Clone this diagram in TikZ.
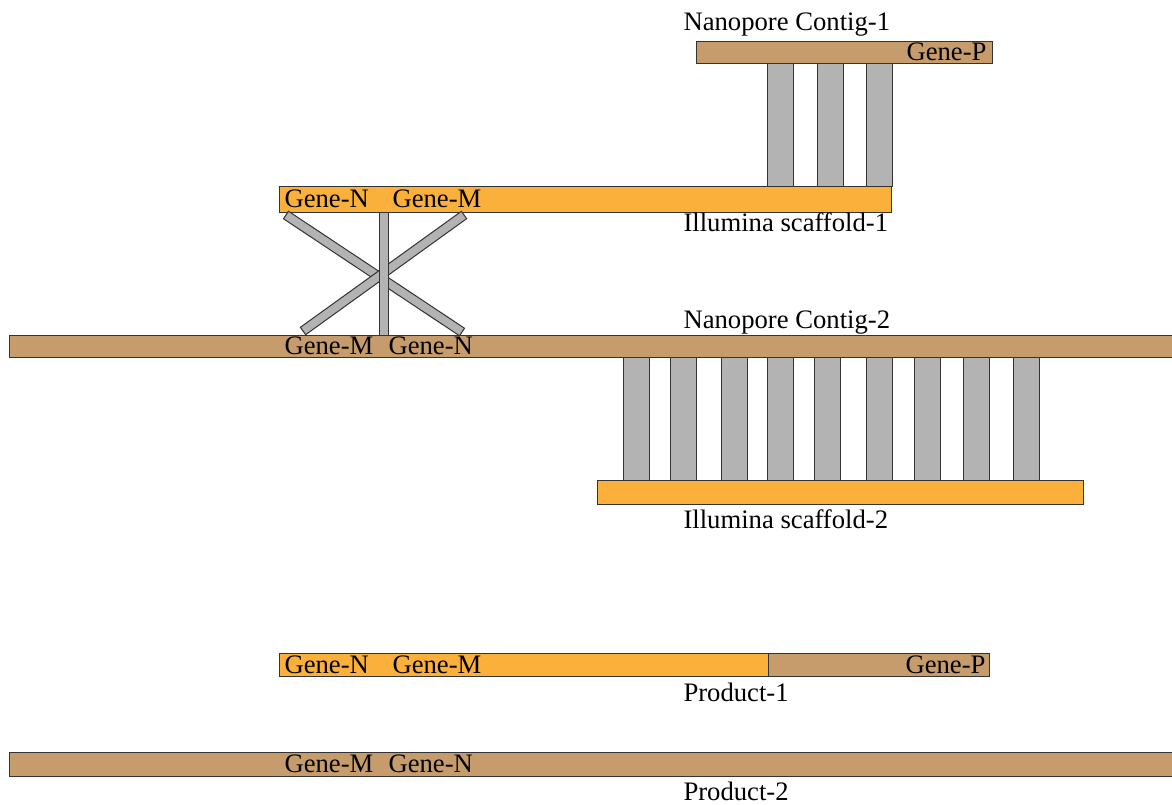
\documentclass[tikz,border=0pt]{standalone}
\usepackage{fontspec}
\setmainfont{Liberation Serif}
\usetikzlibrary{fit,calc}

\definecolor{contigtan}{RGB}{198,156,109}
\definecolor{scaforange}{RGB}{251,176,59}
\definecolor{linkgray}{RGB}{179,179,179}

\tikzset{every picture/.style={line width=0.75pt}}
\tikzset{
  contig/.style={draw=black!80, fill=contigtan, inner sep=0pt, outer sep=0pt},
  scaffold/.style={draw=black!80, fill=scaforange, inner sep=0pt, outer sep=0pt},
  link/.style={draw=black!80, fill=linkgray},
  gene/.style={inner sep=0pt, font=\fontsize{20}{24}\selectfont},
  seqlabel/.style={inner sep=0pt, anchor=base west, font=\fontsize{20}{24}\selectfont},
}

\begin{document}
\begin{tikzpicture}[x=0.75pt,y=0.75pt,yscale=-1,xscale=1]
\useasboundingbox (0,0) rectangle (1172,804);

%Shape: Contigs and scaffolds
\node[contig, fit={(696,41) (992,63)}] (np1) {};
\node[scaffold, fit={(279,186) (891,212)}] (il1) {};
\node[contig, fit={(9,335) (1190,357)}] (np2) {};
\node[scaffold, fit={(597,480) (1083,504)}] (il2) {};

%Shape: Links contig-1 / scaffold-1
\foreach \x in {767,817,866}
  \draw[link] (\x,0 |- np1.south) rectangle (\x+26,0 |- il1.north);

%Shape: Links contig-2 / scaffold-2
\foreach \x in {623,670,721,767,814,866,914,963,1013}
  \draw[link] (\x,0 |- np2.south) rectangle (\x+26,0 |- il2.north);

%Shape: Crossed links scaffold-1 / contig-2
\coordinate (x1a) at (286,215);
\coordinate (x1b) at (462,332);
\coordinate (x2a) at (464,215);
\coordinate (x2b) at (303,331);
\foreach \a/\b in {x1a/x1b,x2a/x2b}
  \draw[link] ($(\a)!3.4pt!90:(\b)$) -- ($(\a)!3.4pt!-90:(\b)$) -- ($(\b)!3.4pt!90:(\a)$) -- ($(\b)!3.4pt!-90:(\a)$) -- cycle;
\draw[link] (379,0 |- il1.south) rectangle (388,0 |- np2.north);

%Shape: Products
\node[scaffold, fit={(279,653) (768,676)}] (pr1a) {};
\node[contig, fit={(768,653) (989,676)}] (pr1b) {};
\node[contig, fit={(9,752) (1190,776)}] (pr2) {};

% Text Node: genes
\node[gene, anchor=east] (gp1) at (987,0 |- np1) {Gene-P};
\node[gene, anchor=west] (gn1) at (284,0 |- il1) {Gene-N};
\node[gene, anchor=west] (gm1) at (392,0 |- il1) {Gene-M};
\node[gene, anchor=west] (gm2) at (284,0 |- np2) {Gene-M};
\node[gene, anchor=west] (gn2) at (388,0 |- np2) {Gene-N};
\node[gene, anchor=west] (gn3) at (284,0 |- pr1a) {Gene-N};
\node[gene, anchor=west] (gm3) at (392,0 |- pr1a) {Gene-M};
\node[gene, anchor=east] (gp3) at (986,0 |- pr1b) {Gene-P};
\node[gene, anchor=west] (gm4) at (284,0 |- pr2) {Gene-M};
\node[gene, anchor=west] (gn4) at (388,0 |- pr2) {Gene-N};

% Text Node: sequence names
\node[seqlabel] (lnp1) at (683,30) {Nanopore Contig-1};
\node[seqlabel] (lil1) at (683,231) {Illumina scaffold-1};
\node[seqlabel] (lnp2) at (683,328) {Nanopore Contig-2};
\node[seqlabel] (lil2) at (683,528) {Illumina scaffold-2};
\node[seqlabel] (lpr1) at (683,701) {Product-1};
\node[seqlabel] (lpr2) at (683,800) {Product-2};

\end{tikzpicture}
\end{document}
